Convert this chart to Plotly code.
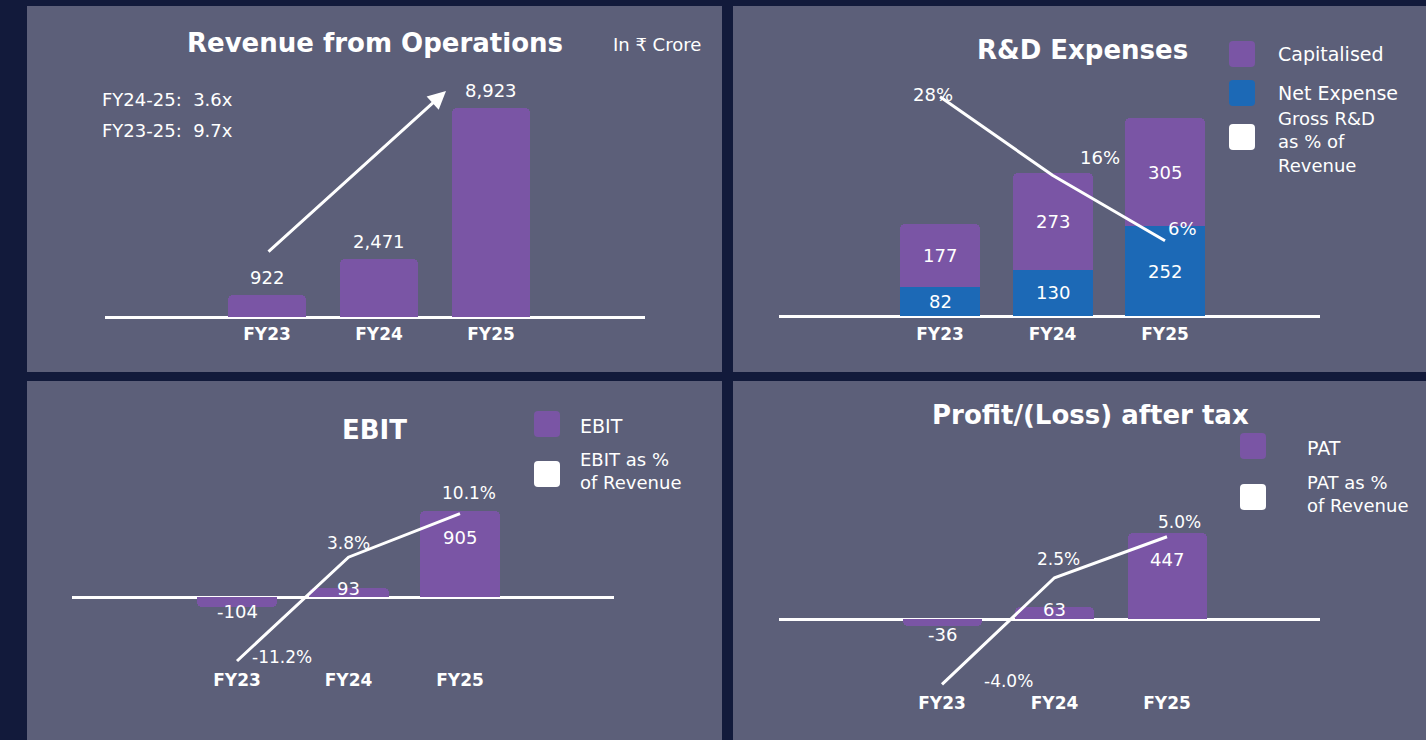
import plotly.graph_objects as go

# ---------------- data ----------------
categories = ["FY23", "FY24", "FY25"]
revenue = [922, 2471, 8923]
rd_net = [82, 130, 252]
rd_cap = [177, 273, 305]
rd_pct = [28, 16, 6]
ebit = [-104, 93, 905]
ebit_pct = [-11.2, 3.8, 10.1]
pat = [-36, 63, 447]
pat_pct = [-4.0, 2.5, 5.0]
growth_labels = ["FY24-25: \u00a03.6x", "FY23-25: \u00a09.7x"]

# ---------------- style ----------------
W, H = 1426, 740
BG = "#121a3b"
PANEL = "#5c5f79"
PURPLE = "#7a55a5"
BLUE = "#1c69b6"
WHITE = "#ffffff"
FONT = "DejaVu Sans, Noto Sans, sans-serif"


def px(x):
    return x / W


def py(y):
    return 1 - y / H


def xr(left, right, c0, c2):
    sp = (c2 - c0) / 2
    return [-(c0 - left) / sp, 2 + (right - c2) / sp], sp


def yr(top, bot, zero_px, ref_val, ref_px):
    upp = ref_val / (zero_px - ref_px)
    return [-(bot - zero_px) * upp, (zero_px - top) * upp]


def pr(top, bot, zero_px, ppu):
    return [-(bot - zero_px) / ppu, (zero_px - top) / ppu]


def rounded_square(cx, cy, s=26, r=4):
    x0, x1 = cx - s / 2, cx + s / 2
    y0, y1 = cy - s / 2, cy + s / 2
    return (
        f"M {px(x0 + r)},{py(y0)} L {px(x1 - r)},{py(y0)} "
        f"Q {px(x1)},{py(y0)} {px(x1)},{py(y0 + r)} "
        f"L {px(x1)},{py(y1 - r)} Q {px(x1)},{py(y1)} {px(x1 - r)},{py(y1)} "
        f"L {px(x0 + r)},{py(y1)} Q {px(x0)},{py(y1)} {px(x0)},{py(y1 - r)} "
        f"L {px(x0)},{py(y0 + r)} Q {px(x0)},{py(y0)} {px(x0 + r)},{py(y0)} Z"
    )


# axis geometry
xr1, sp1 = xr(105, 645, 267, 491)
xr2, sp2 = xr(779, 1320, 940, 1165)
xr3, sp3 = xr(72, 614, 237, 460)
xr4, sp4 = xr(779, 1320, 942, 1167)

fig = go.Figure()

# Panel 1: revenue
fig.add_trace(go.Bar(x=categories, y=revenue, xaxis="x", yaxis="y",
                     marker=dict(color=PURPLE, line=dict(width=0)), width=78 / sp1))
# Panel 2: R&D
fig.add_trace(go.Bar(x=categories, y=rd_net, xaxis="x2", yaxis="y2", name="Net Expense",
                     marker=dict(color=BLUE, line=dict(width=0)), width=80 / sp2))
fig.add_trace(go.Bar(x=categories, y=rd_cap, xaxis="x2", yaxis="y2", name="Capitalised",
                     marker=dict(color=PURPLE, line=dict(width=0)), width=80 / sp2))
fig.add_trace(go.Scatter(x=categories, y=rd_pct, xaxis="x2", yaxis="y3", mode="lines",
                         line=dict(color=WHITE, width=3)))
# Panel 3: EBIT
fig.add_trace(go.Bar(x=categories, y=ebit, xaxis="x3", yaxis="y4",
                     marker=dict(color=PURPLE, line=dict(width=0)), width=80 / sp3))
fig.add_trace(go.Scatter(x=categories, y=ebit_pct, xaxis="x3", yaxis="y5", mode="lines",
                         line=dict(color=WHITE, width=3)))
# Panel 4: PAT
fig.add_trace(go.Bar(x=categories, y=pat, xaxis="x4", yaxis="y6",
                     marker=dict(color=PURPLE, line=dict(width=0)), width=79 / sp4))
fig.add_trace(go.Scatter(x=categories, y=pat_pct, xaxis="x4", yaxis="y7", mode="lines",
                         line=dict(color=WHITE, width=3)))

tickfont = dict(family=FONT, size=17, color=WHITE, weight=700)


def xaxis(dom, rng, anchor):
    return dict(domain=dom, range=rng, anchor=anchor, type="category", showgrid=False,
                zeroline=False, showline=False, ticks="", tickfont=tickfont, fixedrange=True)


def yaxis(dom, rng, anchor):
    return dict(domain=dom, range=rng, anchor=anchor, showgrid=False, showline=False,
                showticklabels=False, ticks="", zeroline=True, zerolinecolor=WHITE,
                zerolinewidth=2.5, fixedrange=True)


def paxis(rng, overlay, anchor):
    return dict(range=rng, overlaying=overlay, anchor=anchor, showgrid=False, zeroline=False,
                showline=False, showticklabels=False, ticks="", visible=False, fixedrange=True)


layout = dict(
    width=W, height=H, margin=dict(l=0, r=0, t=0, b=0),
    paper_bgcolor=BG, plot_bgcolor="rgba(0,0,0,0)",
    barmode="relative", bargap=0, barcornerradius=5, showlegend=False,
    font=dict(family=FONT, color=WHITE),
    xaxis=xaxis([px(105), px(645)], xr1, "y"),
    yaxis=yaxis([py(322), py(60)], yr(60, 322, 317, revenue[2], 108), "x"),
    xaxis2=xaxis([px(779), px(1320)], xr2, "y2"),
    yaxis2=yaxis([py(322), py(60)], yr(60, 322, 316, 557, 118), "x2"),
    yaxis3=paxis(pr(60, 322, 280, 6.545), "y2", "x2"),
    xaxis3=xaxis([px(72), px(614)], xr3, "y4"),
    yaxis4=yaxis([py(668), py(470)], yr(470, 668, 597, ebit[2], 511), "x3"),
    yaxis5=paxis(pr(470, 668, 583.5, 6.92), "y4", "x3"),
    xaxis4=xaxis([px(779), px(1320)], xr4, "y6"),
    yaxis6=yaxis([py(691), py(480)], yr(480, 691, 619, pat[2], 533), "x4"),
    yaxis7=paxis(pr(480, 691, 618.8, 16.41), "y6", "x4"),
)
fig.update_layout(**layout)

# panels
shapes = []
for (x0, x1, y0, y1) in [(27, 722, 6, 372), (733, 1426, 6, 372),
                         (27, 722, 381, 740), (733, 1426, 381, 740)]:
    shapes.append(dict(type="rect", xref="paper", yref="paper", x0=px(x0), x1=px(x1),
                       y0=py(y1), y1=py(y0), fillcolor=PANEL, line=dict(width=0), layer="below"))
# legend squares
for cx, cy, col in [(1242, 54, PURPLE), (1242, 93, BLUE), (1242, 137, WHITE),
                    (547, 424, PURPLE), (547, 474, WHITE),
                    (1253, 446, PURPLE), (1253, 497, WHITE)]:
    shapes.append(dict(type="path", xref="paper", yref="paper", path=rounded_square(cx, cy),
                       fillcolor=col, line=dict(width=0), layer="above"))
fig.update_layout(shapes=shapes)

ann = []


def ptext(x, y, text, size=18, weight=400, xanchor="center"):
    ann.append(dict(x=px(x), y=py(y), xref="paper", yref="paper", text=text, showarrow=False,
                    xanchor=xanchor, yanchor="middle", align="left",
                    font=dict(family=FONT, size=size, color=WHITE, weight=weight)))


def dtext(xref, yref, x, y, text, xshift=0, yshift=0, yanchor="middle", size=18, weight=400):
    ann.append(dict(x=x, y=y, xref=xref, yref=yref, text=text, showarrow=False,
                    xanchor="center", yanchor=yanchor, xshift=xshift, yshift=yshift,
                    font=dict(family=FONT, size=size, color=WHITE, weight=weight)))


# titles
ptext(375, 43, "Revenue from Operations", size=26, weight=700)
ptext(657, 44, "In ₹ Crore", size=18)
ptext(1082, 50, "R&amp;D Expenses", size=26, weight=700)
ptext(375, 430, "EBIT", size=26, weight=700)
ptext(1090, 415, "Profit/(Loss) after tax", size=26, weight=700)

# growth notes
ptext(100, 100, growth_labels[0], size=18, xanchor="left")
ptext(100, 130, growth_labels[1], size=18, xanchor="left")

# legends
ptext(1276, 54, "Capitalised", size=19, xanchor="left")
ptext(1276, 93, "Net Expense", size=19, xanchor="left")
ptext(1276, 142, "Gross R&amp;D<br>as % of<br>Revenue", size=18, xanchor="left")
ptext(578, 426, "EBIT", size=19, xanchor="left")
ptext(578, 471, "EBIT as %<br>of Revenue", size=18, xanchor="left")
ptext(1305, 448, "PAT", size=19, xanchor="left")
ptext(1305, 494, "PAT as %<br>of Revenue", size=18, xanchor="left")

# revenue labels
for c, v in zip(categories, revenue):
    dtext("x", "y", c, v, f"{v:,}", yshift=5, yanchor="bottom")
# revenue arrow
ann.append(dict(x=px(446), y=py(91), xref="paper", yref="paper", ax=267 - 446, ay=253 - 91,
                axref="pixel", ayref="pixel", text="", showarrow=True, arrowhead=2,
                arrowsize=1.2, arrowwidth=3, arrowcolor=WHITE))

# R&D labels
for c, n, k in zip(categories, rd_net, rd_cap):
    dtext("x2", "y2", c, n / 2, f"{n}")
    dtext("x2", "y2", c, n + k / 2, f"{k}")
for c, v, (xs, ys) in zip(categories, rd_pct, [(-7, 2), (47, 18), (17, 12)]):
    dtext("x2", "y3", c, v, f"{v}%", xshift=xs, yshift=ys)

# EBIT labels
for c, v, ys in zip(categories, ebit, [-5, 0, -26]):
    dtext("x3", "y4", c, v, f"{v}", yshift=ys)
for c, v, (xs, ys) in zip(categories, ebit_pct, [(45, 4), (0, 14), (9, 21)]):
    dtext("x3", "y5", c, v, f"{v:.1f}%", xshift=xs, yshift=ys, size=17)

# PAT labels
for c, v, ys in zip(categories, pat, [-9, -3, -26]):
    dtext("x4", "y6", c, v, f"{v}", yshift=ys)
for c, v, (xs, ys) in zip(categories, pat_pct, [(66, 3), (4, 19), (12, 15)]):
    dtext("x4", "y7", c, v, f"{v:.1f}%", xshift=xs, yshift=ys, size=17)

fig.update_layout(annotations=ann)

fig.write_html("out.html", config={"displayModeBar": False},
               post_script="document.body.style.margin='0';")
